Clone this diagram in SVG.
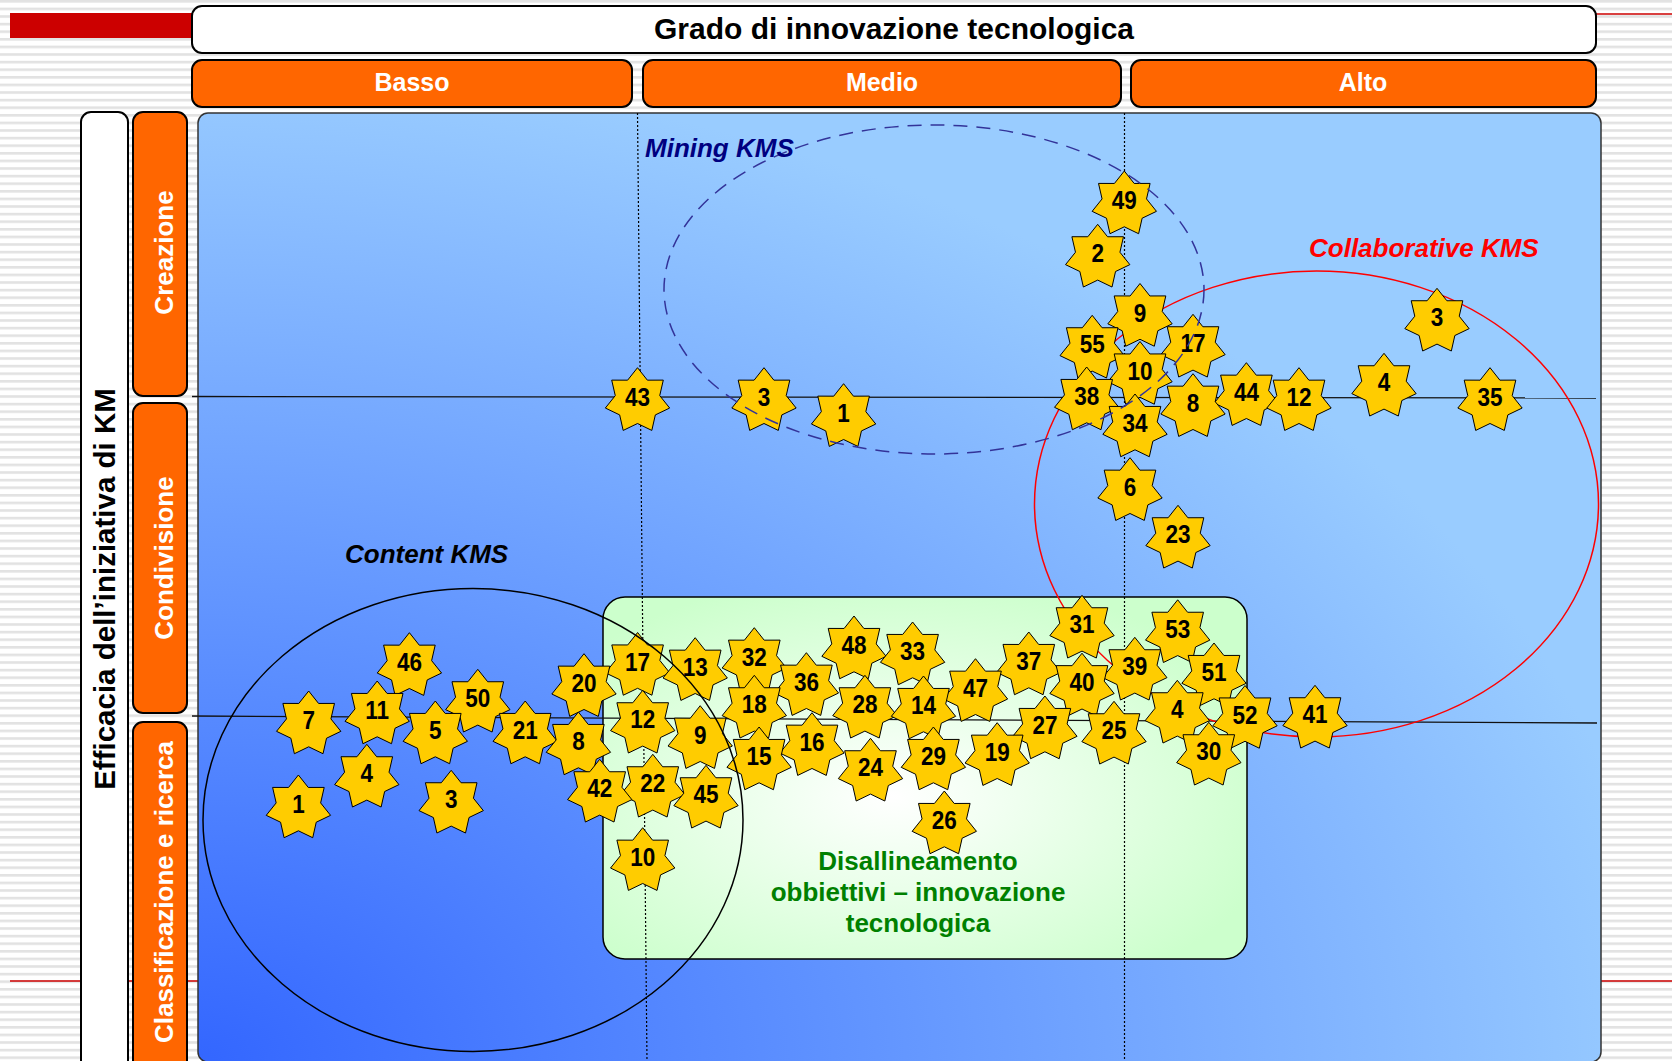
<svg xmlns="http://www.w3.org/2000/svg" xmlns:xlink="http://www.w3.org/1999/xlink" width="1672" height="1061" viewBox="0 0 1672 1061">
<style>
text{font-family:"Liberation Sans",Arial,sans-serif;font-weight:bold}
.box{stroke:#000;stroke-width:2}
.org{fill:#FF6600}
.wht{fill:#FFFFFF}
.hdr{font-size:25px;fill:#FFFFFF;text-anchor:middle}
.side{font-size:26px;fill:#FFFFFF;text-anchor:middle}
.num{font-size:25px;fill:#000;text-anchor:middle;transform:scale(0.9,1)}
.grid{stroke:#111;stroke-width:1.3;fill:none}
.dot{stroke:#000;stroke-width:1.2;stroke-dasharray:2 2;fill:none}
.lbl{font-size:26px;font-style:italic}
.mis{font-size:26px;fill:#008000;text-anchor:middle}
</style>
<defs>
<pattern id="stripes" width="8" height="7.6" patternUnits="userSpaceOnUse">
<rect width="8" height="7.6" fill="#FFFFFF"/>
<rect y="0" width="8" height="2.6" fill="#E2E2E2"/>
</pattern>
<radialGradient id="plotGrad" cx="0" cy="1" r="1.05" gradientUnits="objectBoundingBox">
<stop offset="0" stop-color="#3366FF"/>
<stop offset="1" stop-color="#99CCFF"/>
</radialGradient>
<radialGradient id="greenGrad" cx="0.45" cy="0.55" r="0.62" gradientUnits="objectBoundingBox">
<stop offset="0" stop-color="#FFFFFF"/>
<stop offset="1" stop-color="#CCFFCC"/>
</radialGradient>
<polygon id="star" points="0,-29 9.89,-16.54 25.8,-16.58 22.23,-1.07 32.17,11.34 17.83,18.22 14.32,33.73 0,26.8 -14.32,33.73 -17.83,18.22 -32.17,11.34 -22.23,-1.07 -25.8,-16.58 -9.89,-16.54" fill="#FFCC00" stroke="#000" stroke-width="1"/>
</defs>

<g id="background">
<rect width="1672" height="1061" fill="url(#stripes)"/>
<rect x="10" y="13" width="190" height="25" fill="#CC0000"/>
<line x1="10" y1="14" x2="1672" y2="14" stroke="#CC0000" stroke-width="1.5"/>
<line x1="10" y1="981" x2="1672" y2="981" stroke="#CC0000" stroke-width="1.5"/>
</g>

<g id="title">
<rect class="box wht" x="192" y="6" width="1404" height="47" rx="10"/>
<text x="894" y="39" font-size="30" text-anchor="middle" fill="#000">Grado di innovazione tecnologica</text>
</g>
<g id="col-basso">
<rect class="box org" x="192" y="60" width="440" height="47" rx="10"/>
<text class="hdr" x="412" y="91">Basso</text>
</g>
<g id="col-medio">
<rect class="box org" x="643" y="60" width="478" height="47" rx="10"/>
<text class="hdr" x="882" y="91">Medio</text>
</g>
<g id="col-alto">
<rect class="box org" x="1131" y="60" width="465" height="47" rx="10"/>
<text class="hdr" x="1363" y="91">Alto</text>
</g>

<g id="axis-y">
<rect class="box wht" x="81" y="112" width="47" height="965" rx="10"/>
<text transform="translate(115,589) rotate(-90)" font-size="29.5" text-anchor="middle" fill="#000">Efficacia dell’iniziativa di KM</text>
</g>
<g id="row-creazione">
<rect class="box org" x="133" y="112" width="54" height="284" rx="10"/>
<text class="side" transform="translate(173,252.5) rotate(-90)">Creazione</text>
</g>
<g id="row-condivisione">
<rect class="box org" x="133" y="403" width="54" height="310" rx="10"/>
<text class="side" transform="translate(173,558) rotate(-90)">Condivisione</text>
</g>
<g id="row-classificazione">
<rect class="box org" x="133" y="722" width="54" height="355" rx="10"/>
<text class="side" transform="translate(173,892) rotate(-90)">Classificazione e ricerca</text>
</g>

<g id="plot">
<rect x="198" y="113" width="1403" height="949" rx="10" fill="url(#plotGrad)" stroke="#333" stroke-width="1.5"/>
</g>

<g id="disallineamento">
<rect x="603" y="597" width="644" height="362" rx="22" fill="url(#greenGrad)" stroke="#000" stroke-width="1.5"/>
<text class="mis" x="918" y="870">Disallineamento</text>
<text class="mis" x="918" y="900.5">obbiettivi – innovazione</text>
<text class="mis" x="918" y="931.5">tecnologica</text>
</g>

<g id="connectors">
<line class="grid" x1="192" y1="396.5" x2="1596" y2="398"/>
<line class="grid" x1="192" y1="716" x2="1597" y2="723"/>
<line class="dot" x1="637.5" y1="113" x2="647" y2="1062"/>
<line class="dot" x1="1124.5" y1="113" x2="1124.5" y2="1062"/>
<ellipse id="collaborative-kms" cx="1316.5" cy="504" rx="282" ry="233" fill="none" stroke="#FF0000" stroke-width="1.5"/>
</g>

<g id="stars">
<g id="s49" transform="translate(1124.3,200)"><use href="#star"/><text class="num" y="9">49</text></g>
<g id="s2" transform="translate(1097.7,253.3)"><use href="#star"/><text class="num" y="9">2</text></g>
<g id="s9-top" transform="translate(1140,312.5)"><use href="#star"/><text class="num" y="9">9</text></g>
<g id="s3-top" transform="translate(1437,317.3)"><use href="#star"/><text class="num" y="9">3</text></g>
<g id="s17-top" transform="translate(1193,343.3)"><use href="#star"/><text class="num" y="9">17</text></g>
<g id="s55" transform="translate(1092.2,344.3)"><use href="#star"/><text class="num" y="9">55</text></g>
<g id="s10-top" transform="translate(1140,370.5)"><use href="#star"/><text class="num" y="9">10</text></g>
<g id="s4-top" transform="translate(1384,382.3)"><use href="#star"/><text class="num" y="9">4</text></g>
<g id="s44" transform="translate(1246.4,391.7)"><use href="#star"/><text class="num" y="9">44</text></g>
<g id="s38" transform="translate(1086.7,396)"><use href="#star"/><text class="num" y="9">38</text></g>
<g id="s43" transform="translate(637.5,396.7)"><use href="#star"/><text class="num" y="9">43</text></g>
<g id="s3-mid" transform="translate(764,396.7)"><use href="#star"/><text class="num" y="9">3</text></g>
<g id="s12-top" transform="translate(1299,396.7)"><use href="#star"/><text class="num" y="9">12</text></g>
<g id="s35" transform="translate(1490,396.7)"><use href="#star"/><text class="num" y="9">35</text></g>
<g id="s8-top" transform="translate(1193,402.7)"><use href="#star"/><text class="num" y="9">8</text></g>
<g id="s1-mid" transform="translate(843.6,412.7)"><use href="#star"/><text class="num" y="9">1</text></g>
<g id="s34" transform="translate(1135,423)"><use href="#star"/><text class="num" y="9">34</text></g>
<g id="s6" transform="translate(1130,486.7)"><use href="#star"/><text class="num" y="9">6</text></g>
<g id="s23" transform="translate(1178,534.3)"><use href="#star"/><text class="num" y="9">23</text></g>
<g id="s31" transform="translate(1082,624.3)"><use href="#star"/><text class="num" y="9">31</text></g>
<g id="s53" transform="translate(1177.7,628.8)"><use href="#star"/><text class="num" y="9">53</text></g>
<g id="s48" transform="translate(854,645)"><use href="#star"/><text class="num" y="9">48</text></g>
<g id="s33" transform="translate(912.6,651)"><use href="#star"/><text class="num" y="9">33</text></g>
<g id="s32" transform="translate(754.3,656.7)"><use href="#star"/><text class="num" y="9">32</text></g>
<g id="s37" transform="translate(1028.8,661)"><use href="#star"/><text class="num" y="9">37</text></g>
<g id="s17-low" transform="translate(637.6,661.5)"><use href="#star"/><text class="num" y="9">17</text></g>
<g id="s46" transform="translate(409.4,661.7)"><use href="#star"/><text class="num" y="9">46</text></g>
<g id="s39" transform="translate(1134.8,666.3)"><use href="#star"/><text class="num" y="9">39</text></g>
<g id="s13" transform="translate(695.2,666.7)"><use href="#star"/><text class="num" y="9">13</text></g>
<g id="s51" transform="translate(1214,672)"><use href="#star"/><text class="num" y="9">51</text></g>
<g id="s36" transform="translate(806.4,681.7)"><use href="#star"/><text class="num" y="9">36</text></g>
<g id="s40" transform="translate(1082,682.2)"><use href="#star"/><text class="num" y="9">40</text></g>
<g id="s20" transform="translate(584,682.7)"><use href="#star"/><text class="num" y="9">20</text></g>
<g id="s47" transform="translate(975.5,687.7)"><use href="#star"/><text class="num" y="9">47</text></g>
<g id="s50" transform="translate(477.8,698.3)"><use href="#star"/><text class="num" y="9">50</text></g>
<g id="s18" transform="translate(754.3,704.3)"><use href="#star"/><text class="num" y="9">18</text></g>
<g id="s28" transform="translate(864.9,704.3)"><use href="#star"/><text class="num" y="9">28</text></g>
<g id="s14" transform="translate(923.5,705)"><use href="#star"/><text class="num" y="9">14</text></g>
<g id="s4-mid" transform="translate(1177.3,709.3)"><use href="#star"/><text class="num" y="9">4</text></g>
<g id="s11" transform="translate(377.2,710)"><use href="#star"/><text class="num" y="9">11</text></g>
<g id="s41" transform="translate(1315,714.3)"><use href="#star"/><text class="num" y="9">41</text></g>
<g id="s52" transform="translate(1245,714.5)"><use href="#star"/><text class="num" y="9">52</text></g>
<g id="s12-low" transform="translate(642.7,719.3)"><use href="#star"/><text class="num" y="9">12</text></g>
<g id="s7" transform="translate(308.7,720)"><use href="#star"/><text class="num" y="9">7</text></g>
<g id="s27" transform="translate(1044.9,725)"><use href="#star"/><text class="num" y="9">27</text></g>
<g id="s5" transform="translate(435.3,730)"><use href="#star"/><text class="num" y="9">5</text></g>
<g id="s21" transform="translate(525.2,730)"><use href="#star"/><text class="num" y="9">21</text></g>
<g id="s25" transform="translate(1114,730.3)"><use href="#star"/><text class="num" y="9">25</text></g>
<g id="s9-low" transform="translate(700.2,734.7)"><use href="#star"/><text class="num" y="9">9</text></g>
<g id="s8-low" transform="translate(578.4,741)"><use href="#star"/><text class="num" y="9">8</text></g>
<g id="s16" transform="translate(812,741.7)"><use href="#star"/><text class="num" y="9">16</text></g>
<g id="s30" transform="translate(1208.8,751.3)"><use href="#star"/><text class="num" y="9">30</text></g>
<g id="s19" transform="translate(997.2,751.7)"><use href="#star"/><text class="num" y="9">19</text></g>
<g id="s15" transform="translate(759.1,756)"><use href="#star"/><text class="num" y="9">15</text></g>
<g id="s29" transform="translate(933.4,756)"><use href="#star"/><text class="num" y="9">29</text></g>
<g id="s24" transform="translate(870.5,767.3)"><use href="#star"/><text class="num" y="9">24</text></g>
<g id="s4-low" transform="translate(366.8,773.3)"><use href="#star"/><text class="num" y="9">4</text></g>
<g id="s22" transform="translate(652.8,783.3)"><use href="#star"/><text class="num" y="9">22</text></g>
<g id="s42" transform="translate(599.7,788.3)"><use href="#star"/><text class="num" y="9">42</text></g>
<g id="s45" transform="translate(706,794.3)"><use href="#star"/><text class="num" y="9">45</text></g>
<g id="s3-low" transform="translate(451.2,799.3)"><use href="#star"/><text class="num" y="9">3</text></g>
<g id="s1-low" transform="translate(298.4,804)"><use href="#star"/><text class="num" y="9">1</text></g>
<g id="s26" transform="translate(944.3,820)"><use href="#star"/><text class="num" y="9">26</text></g>
<g id="s10-low" transform="translate(642.7,856.7)"><use href="#star"/><text class="num" y="9">10</text></g>
</g>

<g id="clusters">
<ellipse id="mining-kms" cx="934" cy="289.5" rx="270" ry="164.5" fill="none" stroke="#333399" stroke-width="1.5" stroke-dasharray="14 9"/>
<ellipse id="content-kms" cx="473" cy="820" rx="270" ry="231.5" fill="none" stroke="#000" stroke-width="1.5"/>
<text class="lbl" x="645" y="157" fill="#000080">Mining KMS</text>
<text class="lbl" x="1309" y="257" fill="#FF0000">Collaborative KMS</text>
<text class="lbl" x="345" y="563" fill="#000">Content KMS</text>
</g>
</svg>
